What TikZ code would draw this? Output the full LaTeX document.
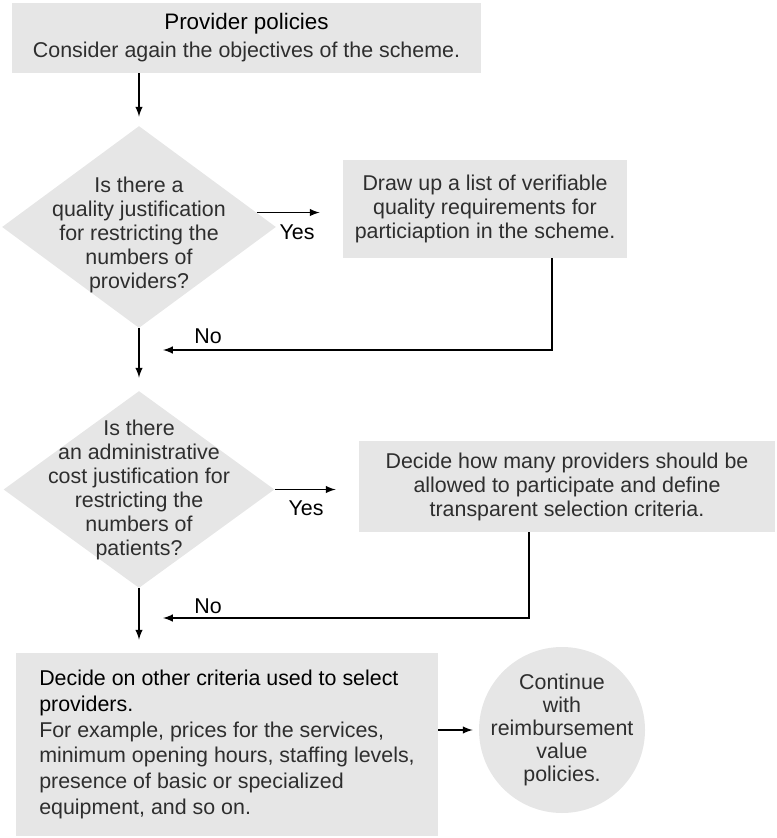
\documentclass[tikz,border=0pt]{standalone}
\usepackage{fontspec}
\setmainfont{Liberation Sans}
\usetikzlibrary{shapes.geometric,calc}
\definecolor{boxgray}{HTML}{E6E6E6}
\definecolor{txtgray}{HTML}{2E2E2E}
\tikzset{
  box/.style={fill=boxgray,text=txtgray,align=center,inner sep=0pt},
  decision/.style={diamond,fill=boxgray,inner sep=0pt},
  qtext/.style={text=txtgray,align=center,inner sep=0pt},
  endpoint/.style={circle,fill=boxgray,inner sep=0pt,minimum size=83pt},
  flow/.style={-latex,line width=0.7pt},
  lbl/.style={inner sep=0pt}
}
\begin{document}
\begin{tikzpicture}[x=0.5pt,y=-0.5pt,font=\fontsize{10.7}{12}\selectfont]
\useasboundingbox (0,0) rectangle (776,838);
\node[box,minimum width=234.5pt,minimum height=35pt,font=\fontsize{10.7}{14}\selectfont] (b1) at (246.5,38) {{\color{black}\fontsize{11.2}{14}\selectfont Provider policies}\\Consider again the objectives of the scheme.};
\node[decision,minimum width=137pt,minimum height=101pt,label={[qtext,yshift=-4pt]center:Is there a\\quality justification\\for restricting the\\numbers of\\providers?}] (q1) at (139,227) {};
\node[box,minimum width=142pt,minimum height=49pt] (b2) at (485,209) {Draw up a list of verifiable\\quality requirements for\\particiaption in the scheme.};
\node[decision,minimum width=135.5pt,minimum height=98.5pt,label={[qtext]center:Is there\\an administrative\\cost justification for\\restricting the\\numbers of\\patients?}] (q2) at (139,489.5) {};
\node[box,minimum width=208pt,minimum height=45.5pt] (b3) at (567,486.5) {Decide how many providers should be\\allowed to participate and define\\transparent selection criteria.};
\node[box,align=left,minimum width=211pt,minimum height=91.5pt,font=\fontsize{10.7}{12.9}\selectfont] (b4) at (227,744.5) {{\color{black}Decide on other criteria used to select}\\{\color{black}providers.}\\For example, prices for the services,\\minimum opening hours, staffing levels,\\presence of basic or specialized\\equipment, and so on.};
\node[endpoint,label={[qtext,font=\fontsize{10.7}{11.5}\selectfont]center:Continue\\with\\reimbursement\\value\\policies.}] (c1) at (562,730) {};
\coordinate (m1) at (139,350);
\coordinate (m2) at (139,618);
\draw[flow,shorten >=4.5pt] (b1.south -| q1.north) -- (q1.north);
\draw[flow,shorten >=11.5pt] (q1.7) -- (q1.7 -| b2.west);
\node[lbl] (yes1) at (297,232) {Yes};
\draw[flow,shorten >=12pt] ([xshift=33.5pt]b2.south) |- (m1);
\node[lbl] (no1) at (208,336) {No};
\draw[flow,shorten >=6.5pt] (q1.south) -- (q2.north);
\draw[flow,shorten >=11.5pt] (q2.east) -- (q2.east -| b3.west);
\node[lbl] (yes2) at (306,508) {Yes};
\draw[flow,shorten >=12pt] ([xshift=-19pt]b3.south) |- (m2);
\node[lbl] (no2) at (208,606) {No};
\draw[flow,shorten >=6.5pt] (q2.south) -- (q2.south |- b4.north);
\draw[flow,shorten >=3pt] (b4.east |- c1.west) -- (c1.west);
\end{tikzpicture}
\end{document}
